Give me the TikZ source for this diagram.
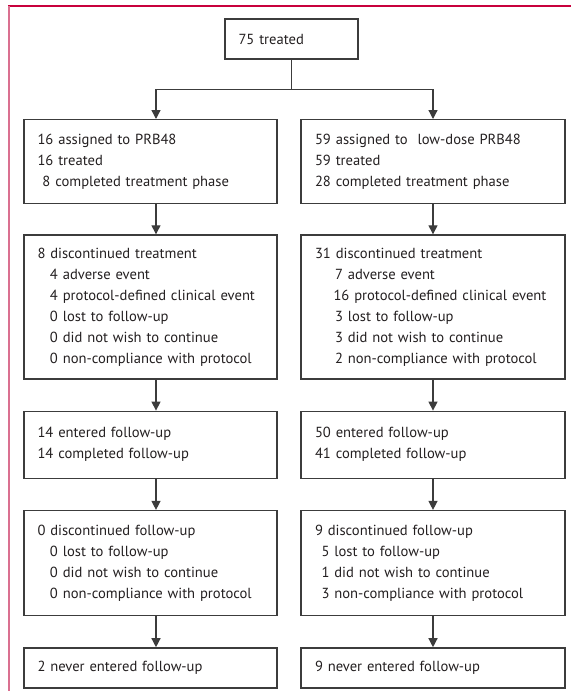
\documentclass[tikz,border=0pt]{standalone}
\usepackage{fontspec}
\setmainfont{PT Sans}
\usetikzlibrary{positioning,arrows.meta,calc}
\definecolor{boxline}{HTML}{3C3C3C}
\definecolor{rulered}{HTML}{C8003C}
\definecolor{rulepink}{HTML}{DA7090}
\definecolor{ink}{HTML}{231F20}

\begin{document}
\begin{tikzpicture}[x=1pt,y=1pt,line width=1.3pt,text=ink]
    % `stage' is used for every box of the two arms.
    % `armA' and `armB' only fix the width of each column.
    % `arrow' is used for the downward connectors.
    \tikzstyle{stage} = [draw=boxline,rectangle,align=left,inner xsep=13.5pt,inner ysep=0pt,font=\fontsize{14.6}{21}\selectfont]
    \tikzstyle{armA} = [stage,text width=226pt,minimum width=253pt]
    \tikzstyle{armB} = [stage,text width=236pt,minimum width=264pt]
    \tikzstyle{arrow} = [draw=boxline,-{Triangle[width=9pt,length=9pt]}]
    %
    \useasboundingbox (0,0) rectangle (571,-691);
    % Page rules.
    \draw[rulered,line width=1.2pt] (8,-6) -- (571,-6);
    \draw[rulepink,line width=2pt] (8.5,-6) -- (8.5,-691);
    %
    \node[stage,text width=106pt,minimum width=133pt,minimum height=40pt] (top) at (291.5,-39) {75 treated};
    % PRB48 arm.
    \node[armA,minimum height=84pt,anchor=north] (a1) at (150.5,-119)
      {16 assigned to PRB48\\16 treated\\\hspace*{5pt}8 completed treatment phase};
    \node[armA,minimum height=144pt] (a2) [below=30pt of a1]
      {8 discontinued treatment\\
       \hspace*{12.5pt}4 adverse event\\
       \hspace*{12.5pt}4 protocol-defined clinical event\\
       \hspace*{12.5pt}0 lost to follow-up\\
       \hspace*{12.5pt}0 did not wish to continue\\
       \hspace*{12.5pt}0 non-compliance with protocol};
    \node[armA,minimum height=67pt] (a3) [below=31pt of a2]
      {14 entered follow-up\\14 completed follow-up};
    \node[armA,minimum height=105pt] (a4) [below=31pt of a3]
      {0 discontinued follow-up\\
       \hspace*{12.5pt}0 lost to follow-up\\
       \hspace*{12.5pt}0 did not wish to continue\\
       \hspace*{12.5pt}0 non-compliance with protocol};
    \node[armA,minimum height=40pt] (a5) [below=31pt of a4] {2 never entered follow-up};
    % Low-dose arm.
    \node[armB,minimum height=84pt,anchor=north] (b1) at (433,-119)
      {59 assigned to\ \ low-dose PRB48\\59 treated\\28 completed treatment phase};
    \node[armB,minimum height=144pt] (b2) [below=30pt of b1]
      {31 discontinued treatment\\
       \hspace*{20pt}7 adverse event\\
       \hspace*{18.5pt}16 protocol-defined clinical event\\
       \hspace*{20pt}3 lost to follow-up\\
       \hspace*{20pt}3 did not wish to continue\\
       \hspace*{20pt}2 non-compliance with protocol};
    \node[armB,minimum height=67pt] (b3) [below=31pt of b2]
      {50 entered follow-up\\41 completed follow-up};
    \node[armB,minimum height=105pt] (b4) [below=31pt of b3]
      {9 discontinued follow-up\\
       \hspace*{6.5pt}5 lost to follow-up\\
       \hspace*{6.5pt}1 did not wish to continue\\
       \hspace*{6.5pt}3 non-compliance with protocol};
    \node[armB,minimum height=40pt] (b5) [below=31pt of b4] {9 never entered follow-up};
    %
    % Draw connectors.
    \coordinate (split) at ($(top.south)+(0,-30)$);
    \draw[boxline] (top.south) -- (split);
    \draw[arrow] (split) -| ([xshift=5.5pt]a1.north);
    \draw[arrow] (split) -| (b1.north);
    \foreach \i/\j in {1/2,2/3,3/4,4/5} {
      \draw[arrow] ([xshift=5.5pt]a\i.south) -- ([xshift=5.5pt]a\j.north);
      \draw[arrow] (b\i.south) -- (b\j.north);
    }
\end{tikzpicture}
\end{document}
